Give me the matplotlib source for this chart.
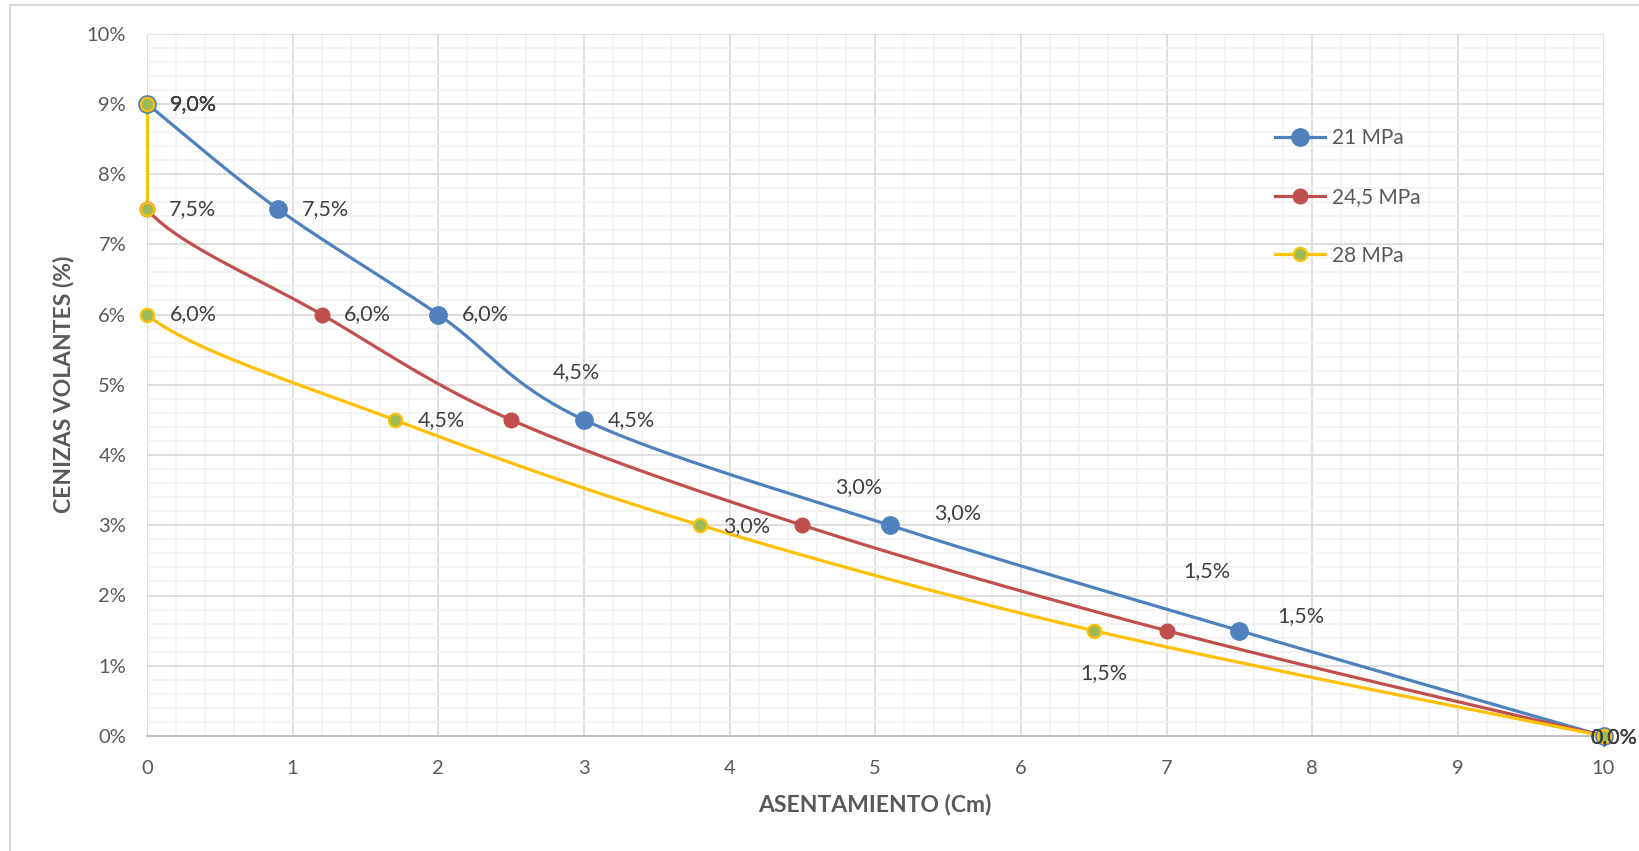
import matplotlib
matplotlib.use("Agg")
import matplotlib.pyplot as plt
from matplotlib.patches import Rectangle
import numpy as np

plt.rcParams['font.family'] = ['Lato', 'DejaVu Sans']

# data
series_names = ["21 MPa", "24,5 MPa", "28 MPa"]
x_21 = [0, 0.9, 2.0, 3.0, 5.1, 7.5, 10]
y_21 = [9.0, 7.5, 6.0, 4.5, 3.0, 1.5, 0.0]
x_245 = [0, 0, 1.2, 2.5, 4.5, 7.0, 10]
y_245 = [9.0, 7.5, 6.0, 4.5, 3.0, 1.5, 0.0]
x_28 = [0, 0, 0, 1.7, 3.8, 6.5, 10]
y_28 = [9.0, 7.5, 6.0, 4.5, 3.0, 1.5, 0.0]
# segments that are not drawn (blank in the sheet)
gap_21 = []
gap_245 = [0]
gap_28 = [1]

# label offsets (pixels, label centre relative to point), None = no label
off_21 = [(46, 0), (47, 0), (47, 0), (47, 0), (68, 12), (61, 15), (10, -1)]
off_245 = [(46, 0), (46, 0), (46, 0), (65, 48), (56, 38), (40, 60), (10, -1)]
off_28 = [(46, 0), None, (46, 0), (47, 0), (46, -1), (10, -42), (10, -1)]

blue = "#4F81BD"
red = "#C0504D"
yellow = "#FFC000"
green = "#9BBB59"
txt = "#595959"


def smooth(ax, xs, ys, gaps, n=40):
    # excel-like smoothed line, done in pixel space
    pts = ax.transData.transform(np.column_stack([xs, ys]))
    m = len(pts)
    parts = []
    cur = [pts[0]]
    for i in range(m - 1):
        p0 = pts[max(i - 1, 0)]
        p1 = pts[i]
        p2 = pts[i + 1]
        p3 = pts[min(i + 2, m - 1)]
        if i in gaps:
            parts.append(np.array(cur))
            cur = [p2]
            continue
        c1 = p1 + (p2 - p0) / 6.0
        c2 = p2 - (p3 - p1) / 6.0
        t = np.linspace(0, 1, n)[1:, None]
        seg = ((1 - t) ** 3) * p1 + 3 * ((1 - t) ** 2) * t * c1 + 3 * (1 - t) * t ** 2 * c2 + t ** 3 * p2
        cur.extend(seg)
    parts.append(np.array(cur))
    inv = ax.transData.inverted()
    return [inv.transform(p) for p in parts if len(p) > 1]


fig = plt.figure(figsize=(16.39, 8.51), dpi=100)
ax = fig.add_axes([147 / 1639, 1 - 736 / 851, (1603.5 - 147) / 1639, (736 - 33.5) / 851])
ax.set_xlim(0, 10)
ax.set_ylim(0, 10)

fig.patches.append(Rectangle((10 / 1639, -0.1), 1.2, 1 - 5 / 851 + 0.1, transform=fig.transFigure,
                             fill=False, edgecolor="#D9D9D9", linewidth=1.5))

ax.set_xticks(np.arange(0, 11, 1))
ax.set_yticks(np.arange(0, 11, 1))
ax.set_xticks(np.arange(0, 10.01, 0.2), minor=True)
ax.set_yticks(np.arange(0, 10.01, 0.2), minor=True)
ax.set_yticklabels([f"{v}%" for v in range(0, 11)])
ax.grid(which="minor", color="#F2F2F2", linewidth=1.2)
ax.grid(which="major", color="#D9D9D9", linewidth=1.2)
ax.set_axisbelow(True)
for s in ["top", "right", "left"]:
    ax.spines[s].set_visible(False)
ax.spines["bottom"].set_color("#BFBFBF")
ax.spines["bottom"].set_linewidth(1.5)
ax.tick_params(which="both", length=0)
ax.tick_params(axis="y", pad=15, labelsize=14.5, labelcolor=txt)
ax.tick_params(axis="x", pad=17, labelsize=14.5, labelcolor=txt)

ax.set_xlabel("ASENTAMIENTO (Cm)", fontsize=16.5, fontweight="bold", color=txt, labelpad=12)
ax.set_ylabel("CENIZAS VOLANTES (%)", fontsize=16.5, fontweight="bold", color=txt, labelpad=9)

styles = [
    (x_21, y_21, gap_21, off_21, 4.2, dict(color=blue, marker="o", markersize=12.5, markerfacecolor=blue,
                                           markeredgecolor=blue, markeredgewidth=1)),
    (x_245, y_245, gap_245, off_245, 4.1, dict(color=red, marker="o", markersize=10.5, markerfacecolor=red,
                                               markeredgecolor=red, markeredgewidth=1)),
    (x_28, y_28, gap_28, off_28, 4.3, dict(color=yellow, marker="o", markersize=9.5, markerfacecolor=green,
                                           markeredgecolor=yellow, markeredgewidth=1.6)),
]

handles = []
for name, (xs, ys, gaps, offs, mz, st) in zip(series_names, styles):
    for part in smooth(ax, xs, ys, gaps):
        ax.plot(part[:, 0], part[:, 1], color=st["color"], linewidth=2.3, solid_capstyle="round",
                clip_on=False, zorder=3)
    ax.plot(xs, ys, linestyle="none", marker=st["marker"], markersize=st["markersize"],
            markerfacecolor=st["markerfacecolor"], markeredgecolor=st["markeredgecolor"],
            markeredgewidth=st["markeredgewidth"], clip_on=False, zorder=mz)
    h, = ax.plot([], [], linewidth=2.3, **st)
    handles.append(h)
    for x, y, off in zip(xs, ys, offs):
        if off is None:
            continue
        ax.annotate(f"{y:.1f}%".replace(".", ","), (x, y), xytext=off, textcoords="offset pixels",
                    ha="center", va="center", fontsize=15.5, color="#404040", zorder=5)

leg = ax.legend(handles, series_names, loc="upper left", bbox_to_anchor=(1265 / 1639, 1 - 118 / 851),
                bbox_transform=fig.transFigure, frameon=False, fontsize=15, labelspacing=1.85,
                handlelength=2.4, handletextpad=0.3, borderpad=0)
for t in leg.get_texts():
    t.set_color(txt)

fig.savefig("out.png", dpi=100)
